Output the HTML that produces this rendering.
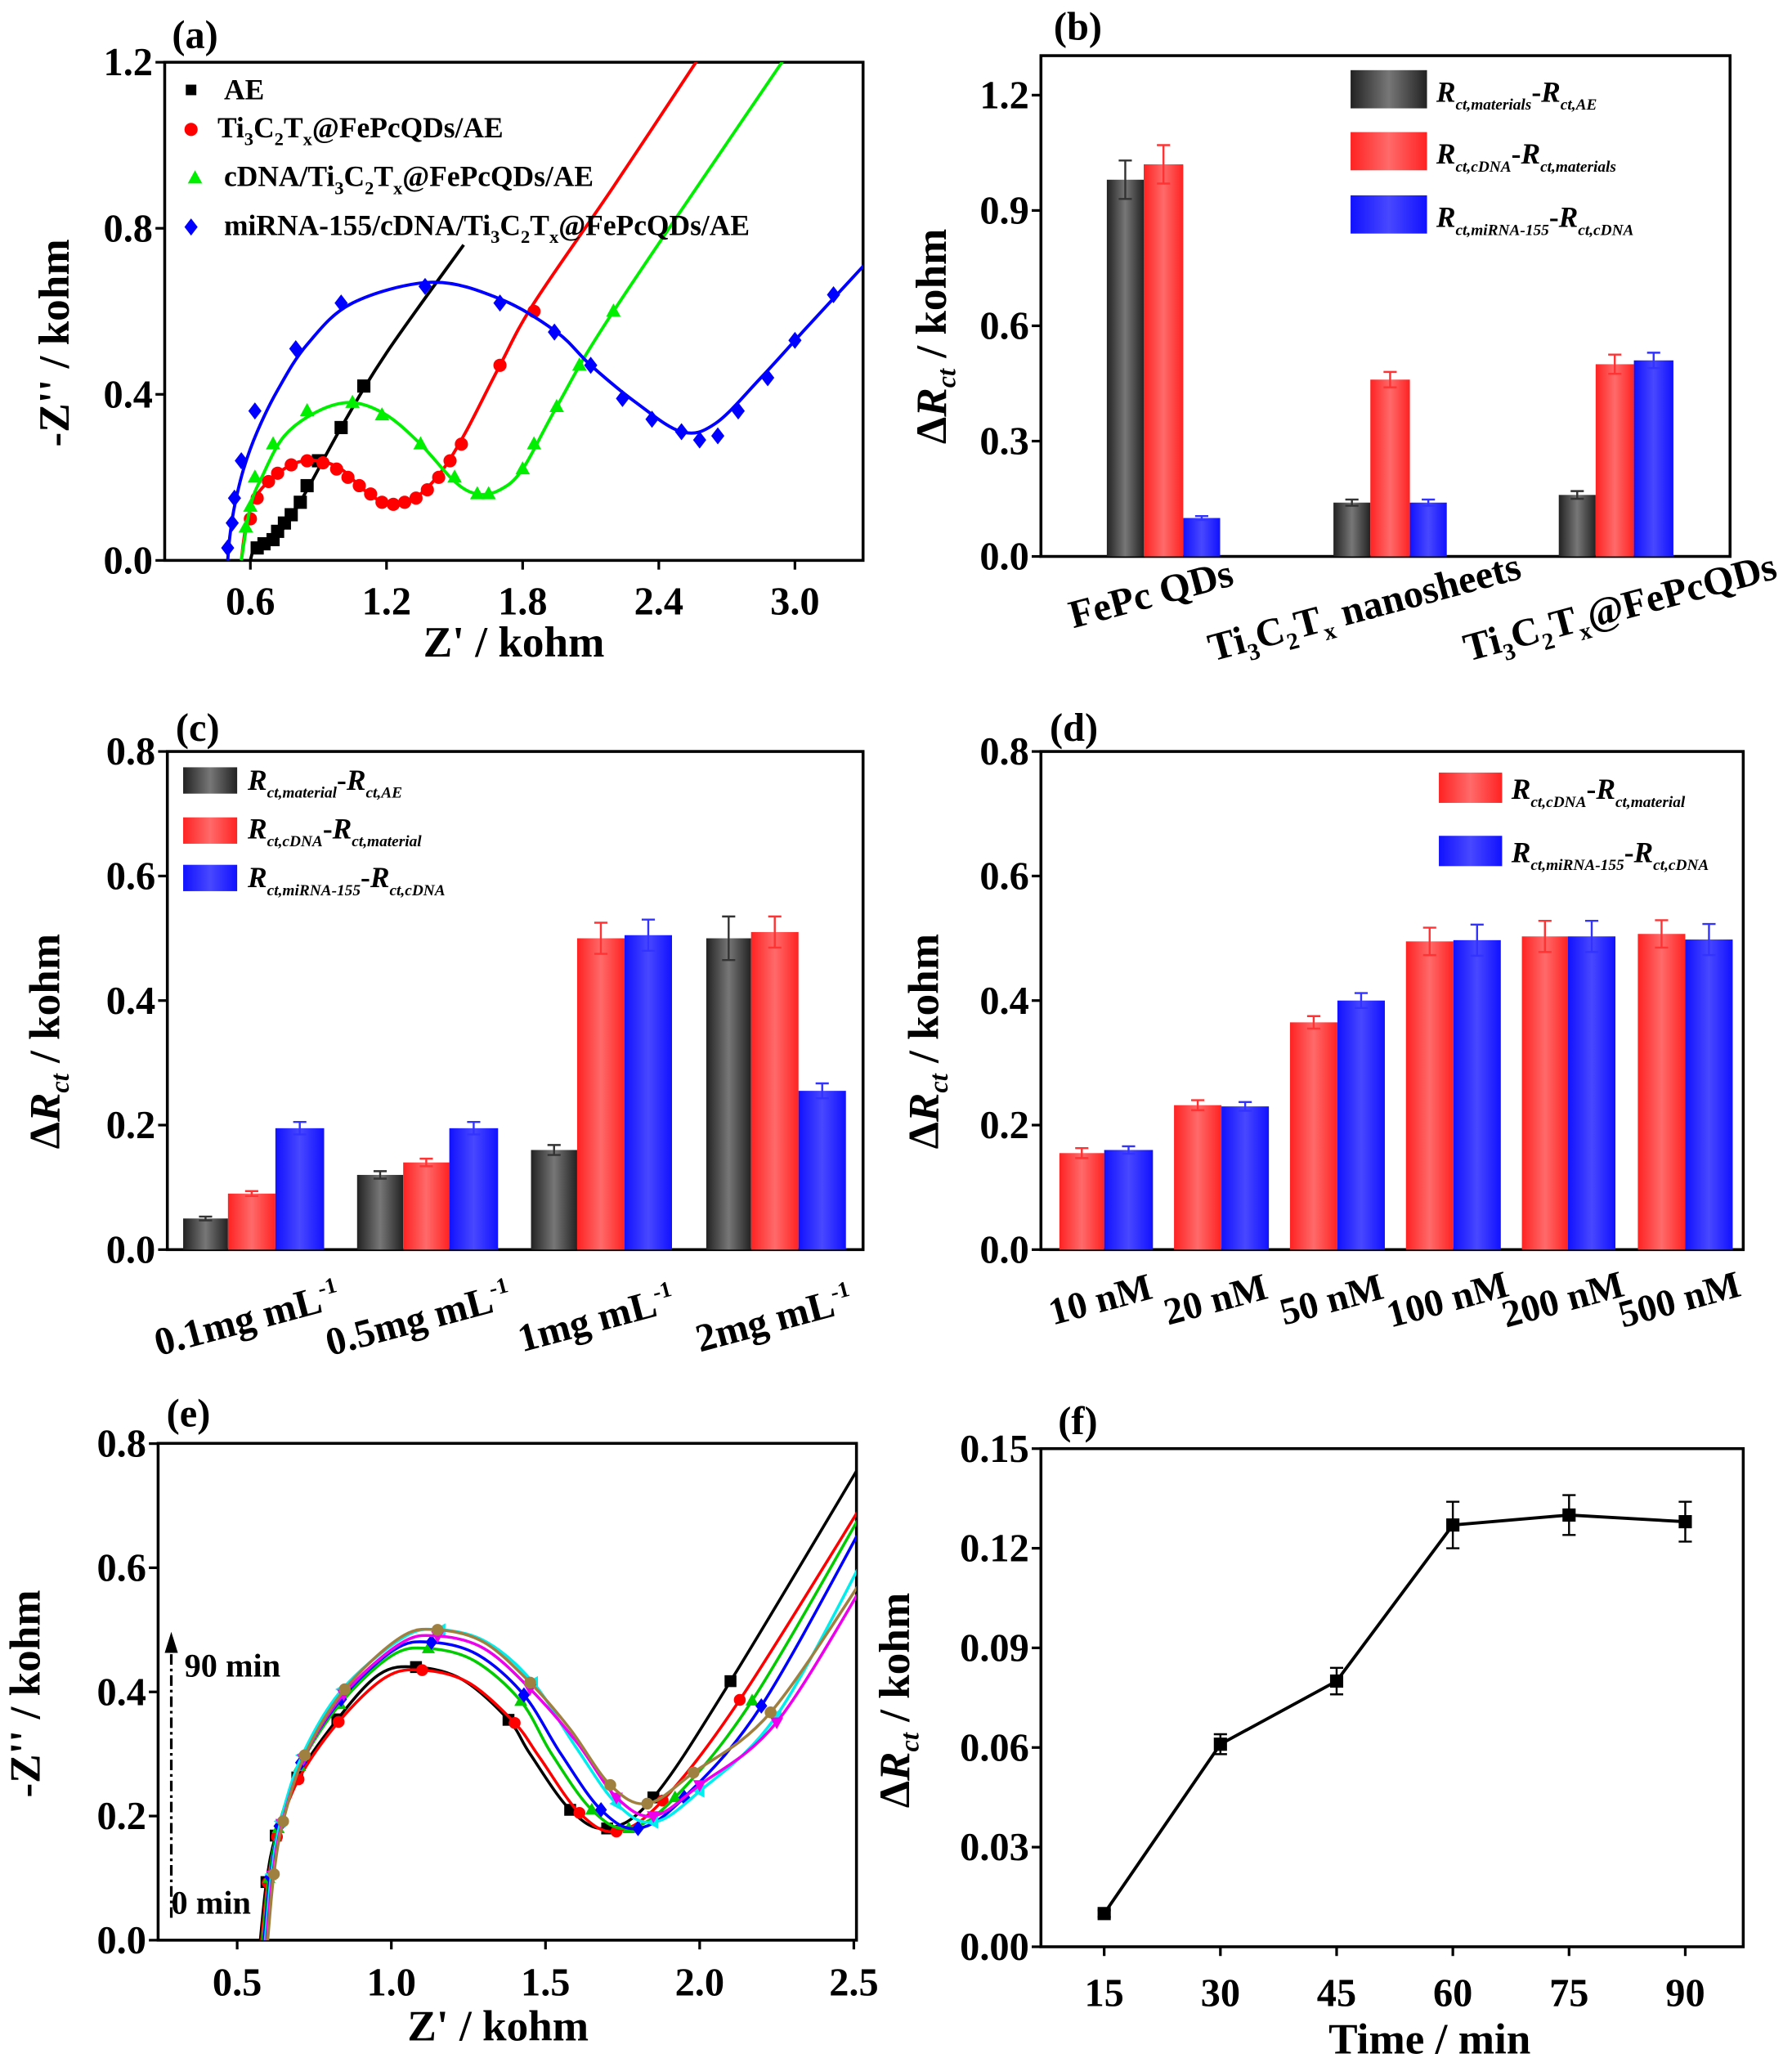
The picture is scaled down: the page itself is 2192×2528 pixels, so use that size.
<!DOCTYPE html>
<html><head><meta charset="utf-8">
<style>
html,body{margin:0;padding:0;background:#fff;}
svg{display:block}
svg text{font-family:"Liberation Serif","DejaVu Serif",serif !important;font-weight:bold;fill:#000}
</style></head>
<body>
<svg id="s" xmlns="http://www.w3.org/2000/svg" width="2192" height="2528" viewBox="0 0 1360 1568" font-family="Liberation Serif, serif">
<defs>
<linearGradient id="gk" x1="0" x2="1" y1="0" y2="0"><stop offset="0" stop-color="#222"/><stop offset="0.5" stop-color="#777"/><stop offset="1" stop-color="#222"/></linearGradient>
<linearGradient id="gr" x1="0" x2="1" y1="0" y2="0"><stop offset="0" stop-color="#f22"/><stop offset="0.5" stop-color="#ff6a6a"/><stop offset="1" stop-color="#f22"/></linearGradient>
<linearGradient id="gb" x1="0" x2="1" y1="0" y2="0"><stop offset="0" stop-color="#11f"/><stop offset="0.5" stop-color="#4848ff"/><stop offset="1" stop-color="#11f"/></linearGradient>
</defs>
<g id="root"></g>
</svg>
<script>
var R=document.getElementById('root'),NS='http://www.w3.org/2000/svg';
function el(t,a,txt){var e=document.createElementNS(NS,t);for(var k in a)e.setAttribute(k,a[k]);if(txt!==undefined)e.innerHTML=txt;R.appendChild(e);return e;}
function txt(x,y,s,size,anchor,extra){var a={x:x,y:y,'font-size':size||27,'text-anchor':anchor||'middle','font-family':'Liberation Serif, serif','font-weight':'bold'};for(var k in extra)a[k]=extra[k];return el('text',a,s);}
function cr(pts){var d='M'+pts[0][0]+','+pts[0][1];for(var i=0;i<pts.length-1;i++){var p0=pts[Math.max(0,i-1)],p1=pts[i],p2=pts[i+1],p3=pts[Math.min(pts.length-1,i+2)];
d+=' C'+(p1[0]+(p2[0]-p0[0])/6)+','+(p1[1]+(p2[1]-p0[1])/6)+' '+(p2[0]-(p3[0]-p1[0])/6)+','+(p2[1]-(p3[1]-p1[1])/6)+' '+p2[0]+','+p2[1];}return d;}
function marker(type,x,y,c,s){s=s||5;
 if(type=='sq')el('rect',{x:x-s,y:y-s,width:2*s,height:2*s,fill:c});
 else if(type=='ci')el('circle',{cx:x,cy:y,r:s,fill:c});
 else if(type=='tr')el('polygon',{points:(x)+','+(y-s*1.2)+' '+(x-s*1.1)+','+(y+s*0.8)+' '+(x+s*1.1)+','+(y+s*0.8),fill:c});
 else if(type=='di')el('polygon',{points:x+','+(y-s*1.3)+' '+(x+s)+','+y+' '+x+','+(y+s*1.3)+' '+(x-s)+','+y,fill:c});
 else if(type=='tl')el('polygon',{points:(x-s*1.2)+','+y+' '+(x+s*0.8)+','+(y-s*1.1)+' '+(x+s*0.8)+','+(y+s*1.1),fill:c});
 else if(type=='tri')el('polygon',{points:x+','+(y+s*1.2)+' '+(x-s*1.1)+','+(y-s*0.8)+' '+(x+s*1.1)+','+(y-s*0.8),fill:c});
}
function box(x0,y0,x1,y1){el('rect',{x:x0,y:y0,width:x1-x0,height:y1-y0,fill:'none',stroke:'#000','stroke-width':2.2});}
function yt(x0,y,lab){el('line',{x1:x0-7,y1:y,x2:x0,y2:y,stroke:'#000','stroke-width':2});txt(x0-9,y+10,lab,30,'end');}
function xt(x,y1){el('line',{x1:x,y1:y1,x2:x,y2:y1+7,stroke:'#000','stroke-width':2});}

/* ---------- (a) ---------- */
(function(){
var X=function(z){return 86.7+172.2*z},Y=function(v){return 425-315*v};
box(125,47,655,425);
[[1.2,'1.2'],[0.8,'0.8'],[0.4,'0.4'],[0,'0.0']].forEach(function(t){yt(125,Y(t[0]),t[1]);});
[0.6,1.2,1.8,2.4,3.0].forEach(function(z){xt(X(z),425);txt(X(z),466,z.toFixed(1),30);});
txt(390,498,"Z' / kohm",33);
txt(52,260,"-Z'' / kohm",33,'middle',{transform:'rotate(-90 52 260)'});
txt(148,36,'(a)',30);
el('clipPath',{id:'ca'}).innerHTML='<rect x="125" y="47" width="530" height="378"/>';
function ser(curve,pts,col,mk){var P=curve.map(function(p){return[X(p[0]),Y(p[1])]});el('path',{d:cr(P),fill:'none',stroke:col,'stroke-width':2.4,'clip-path':'url(#ca)'});pts.forEach(function(p){marker(mk,X(p[0]),Y(p[1]),col,5);});}
ser([[0.6,0],[0.62,0.03],[0.68,0.04],[0.75,0.08],[0.85,0.17],[1.0,0.32],[1.2,0.5],[1.54,0.76]],
 [[0.63,0.03],[0.66,0.04],[0.7,0.05],[0.72,0.07],[0.75,0.09],[0.78,0.11],[0.82,0.14],[0.85,0.18],[0.9,0.24],[1.0,0.32],[1.1,0.42]],'#000','sq');
ser([[0.56,0],[0.58,0.08],[0.62,0.15],[0.7,0.2],[0.8,0.235],[0.9,0.24],[1.0,0.22],[1.1,0.17],[1.2,0.135],[1.27,0.135],[1.35,0.16],[1.45,0.22],[1.55,0.31],[1.7,0.47],[1.85,0.62],[2.2,0.9],[2.6,1.23]],
 [[0.6,0.1],[0.63,0.15],[0.68,0.19],[0.72,0.21],[0.78,0.23],[0.85,0.24],[0.92,0.235],[0.98,0.22],[1.03,0.2],[1.08,0.18],[1.13,0.16],[1.18,0.14],[1.23,0.135],[1.28,0.14],[1.33,0.15],[1.38,0.17],[1.43,0.2],[1.48,0.24],[1.53,0.28],[1.7,0.47],[1.85,0.6]],'#f00','ci');
ser([[0.56,0],[0.6,0.13],[0.65,0.2],[0.75,0.3],[0.9,0.36],[1.05,0.38],[1.2,0.35],[1.35,0.28],[1.5,0.19],[1.6,0.16],[1.7,0.17],[1.8,0.22],[1.95,0.37],[2.2,0.6],[2.98,1.23]],
 [[0.58,0.08],[0.6,0.13],[0.62,0.2],[0.7,0.28],[0.85,0.36],[1.05,0.38],[1.18,0.35],[1.35,0.28],[1.5,0.2],[1.6,0.16],[1.65,0.16],[1.8,0.22],[1.85,0.28],[1.95,0.37],[2.05,0.47],[2.2,0.6]],'#0e0','tr');
ser([[0.5,0],[0.51,0.06],[0.53,0.13],[0.57,0.22],[0.63,0.31],[0.72,0.41],[0.85,0.52],[1.05,0.62],[1.4,0.67],[1.7,0.63],[1.95,0.55],[2.1,0.47],[2.3,0.38],[2.5,0.31],[2.65,0.33],[2.85,0.44],[3.05,0.56],[3.32,0.72]],
 [[0.5,0.03],[0.52,0.09],[0.53,0.15],[0.56,0.24],[0.62,0.36],[0.8,0.51],[1.0,0.62],[1.37,0.66],[1.7,0.62],[1.94,0.55],[2.1,0.47],[2.24,0.39],[2.37,0.34],[2.5,0.31],[2.58,0.29],[2.66,0.3],[2.75,0.36],[2.88,0.44],[3.0,0.53],[3.17,0.64]],'#00f','di');
marker('sq',145,68,'#000',4);txt(170,75,'AE',22,'start');
marker('ci',145,98,'#f00',5);txt(165,104,'Ti<tspan font-size="14" dy="6">3</tspan><tspan dy="-6">C</tspan><tspan font-size="14" dy="6">2</tspan><tspan dy="-6">T</tspan><tspan font-size="14" dy="6">x</tspan><tspan dy="-6">@FePcQDs/AE</tspan>',22,'start');
marker('tr',148,135,'#0e0',5);txt(170,141,'cDNA/Ti<tspan font-size="14" dy="6">3</tspan><tspan dy="-6">C</tspan><tspan font-size="14" dy="6">2</tspan><tspan dy="-6">T</tspan><tspan font-size="14" dy="6">x</tspan><tspan dy="-6">@FePcQDs/AE</tspan>',22,'start');
marker('di',145,172,'#00f',5);txt(170,178,'miRNA-155/cDNA/Ti<tspan font-size="14" dy="6">3</tspan><tspan dy="-6">C</tspan><tspan font-size="14" dy="6">2</tspan><tspan dy="-6">T</tspan><tspan font-size="14" dy="6">x</tspan><tspan dy="-6">@FePcQDs/AE</tspan>',22,'start');
})();

function bar(x0,x1,Y,v,err,g,ec){el('rect',{x:x0,y:Y(v),width:x1-x0,height:Y(0)-Y(v),fill:'url(#'+g+')'});
 var cx=(x0+x1)/2;el('path',{d:'M'+cx+','+Y(v-err)+'V'+Y(v+err)+'M'+(cx-5)+','+Y(v+err)+'h10M'+(cx-5)+','+Y(v-err)+'h10',stroke:ec,'stroke-width':1.5,fill:'none'});}
function rlab(x,y,s,size){txt(x,y,s,size||30,'middle',{transform:'rotate(-15 '+x+' '+y+')'});}
function rsub(main,sub1,sub2){return '<tspan font-style="italic">R</tspan><tspan font-size="12" font-style="italic" dy="6">'+sub1+'</tspan><tspan dy="-6">-</tspan><tspan font-style="italic">R</tspan><tspan font-size="12" font-style="italic" dy="6">'+sub2+'</tspan>';}
function ylabDR(x,y){txt(x,y,'Δ<tspan font-style="italic">R</tspan><tspan font-size="20" font-style="italic" dy="7">ct</tspan><tspan dy="-7"> / kohm</tspan>',33,'middle',{transform:'rotate(-90 '+x+' '+y+')'});}

/* ---------- (b) ---------- */
(function(){
var Y=function(v){return 422-291.7*v};
box(790,42,1313,422);
[[1.2,'1.2'],[0.9,'0.9'],[0.6,'0.6'],[0.3,'0.3'],[0,'0.0']].forEach(function(t){yt(790,Y(t[0]),t[1]);});
txt(818,30,'(b)',30);
ylabDR(718,255);
var G=[[840,868,898,926],[1012,1040,1070,1098],[1183,1211,1240,1270]];
var V=[[0.98,1.02,0.10],[0.14,0.46,0.14],[0.16,0.50,0.51]],E=[[0.05,0.05,0.005],[0.008,0.02,0.008],[0.01,0.025,0.02]];
G.forEach(function(g,i){bar(g[0],g[1],Y,V[i][0],E[i][0],'gk','#333');bar(g[1],g[2],Y,V[i][1],E[i][1],'gr','#f33');bar(g[2],g[3],Y,V[i][2],E[i][2],'gb','#33f');});
el('rect',{x:1025,y:53,width:58,height:29,fill:'url(#gk)'});
el('rect',{x:1025,y:100,width:58,height:29,fill:'url(#gr)'});
el('rect',{x:1025,y:148,width:58,height:29,fill:'url(#gb)'});
txt(1090,77,rsub('','ct,materials','ct,AE'),22,'start');
txt(1090,124,rsub('','ct,cDNA','ct,materials'),22,'start');
txt(1090,172,rsub('','ct,miRNA-155','ct,cDNA'),22,'start');
rlab(876,460,'FePc QDs');
rlab(1038,470,'Ti<tspan font-size="18" dy="7">3</tspan><tspan dy="-7">C</tspan><tspan font-size="18" dy="7">2</tspan><tspan dy="-7">T</tspan><tspan font-size="18" dy="7">x</tspan><tspan dy="-7"> nanosheets</tspan>');
rlab(1232,470,'Ti<tspan font-size="18" dy="7">3</tspan><tspan dy="-7">C</tspan><tspan font-size="18" dy="7">2</tspan><tspan dy="-7">T</tspan><tspan font-size="18" dy="7">x</tspan><tspan dy="-7">@FePcQDs</tspan>');
})();

/* ---------- (c) ---------- */
(function(){
var Y=function(v){return 948-472.5*v};
box(127,570,655,948);
[[0.8,'0.8'],[0.6,'0.6'],[0.4,'0.4'],[0.2,'0.2'],[0,'0.0']].forEach(function(t){yt(127,Y(t[0]),t[1]);});
txt(150,562,'(c)',30);
ylabDR(45,790);
var G=[[139,173,209,246],[271,306,341,378],[403,438,474,510],[536,570,606,642]];
var V=[[0.05,0.09,0.195],[0.12,0.14,0.195],[0.16,0.50,0.505],[0.50,0.51,0.255]],E=[[0.003,0.004,0.01],[0.006,0.006,0.01],[0.008,0.025,0.025],[0.035,0.025,0.012]];
G.forEach(function(g,i){bar(g[0],g[1],Y,V[i][0],E[i][0],'gk','#333');bar(g[1],g[2],Y,V[i][1],E[i][1],'gr','#f33');bar(g[2],g[3],Y,V[i][2],E[i][2],'gb','#33f');});
el('rect',{x:139,y:582,width:41,height:20,fill:'url(#gk)'});
el('rect',{x:139,y:620,width:41,height:20,fill:'url(#gr)'});
el('rect',{x:139,y:656,width:41,height:20,fill:'url(#gb)'});
txt(188,599,rsub('','ct,material','ct,AE'),22,'start');
txt(188,636,rsub('','ct,cDNA','ct,material'),22,'start');
txt(188,673,rsub('','ct,miRNA-155','ct,cDNA'),22,'start');
var L=['0.1mg mL','0.5mg mL','1mg mL','2mg mL'],C=[190,320,455,590];
L.forEach(function(l,i){rlab(C[i],1010,l+'<tspan font-size="17" dy="-12">-1</tspan>');});
})();

/* ---------- (d) ---------- */
(function(){
var Y=function(v){return 948-472.5*v};
box(790,570,1323,948);
[[0.8,'0.8'],[0.6,'0.6'],[0.4,'0.4'],[0.2,'0.2'],[0,'0.0']].forEach(function(t){yt(790,Y(t[0]),t[1]);});
txt(815,562,'(d)',30);
ylabDR(712,790);
var G=[[804,838,875],[891,927,963],[979,1015,1051],[1067,1103,1139],[1155,1190,1226],[1243,1279,1315]];
var V=[[0.155,0.16],[0.232,0.23],[0.365,0.40],[0.495,0.497],[0.503,0.503],[0.507,0.498]],E=[[0.008,0.006],[0.008,0.007],[0.01,0.012],[0.022,0.025],[0.025,0.025],[0.022,0.025]];
G.forEach(function(g,i){bar(g[0],g[1],Y,V[i][0],E[i][0],'gr','#f33');bar(g[1],g[2],Y,V[i][1],E[i][1],'gb','#33f');});
el('rect',{x:1092,y:586,width:48,height:23,fill:'url(#gr)'});
el('rect',{x:1092,y:634,width:48,height:23,fill:'url(#gb)'});
txt(1147,606,rsub('','ct,cDNA','ct,material'),22,'start');
txt(1147,654,rsub('','ct,miRNA-155','ct,cDNA'),22,'start');
['10 nM','20 nM','50 nM','100 nM','200 nM','500 nM'].forEach(function(l,i){rlab((G[i][0]+G[i][2])/2-2,995,l,29);});
})();

/* ---------- (e) ---------- */
(function(){
var X=function(z){return 63+234*z},Y=function(v){return 1472-471*v};
box(120,1095,650,1472);
[[0.8,'0.8'],[0.6,'0.6'],[0.4,'0.4'],[0.2,'0.2'],[0,'0.0']].forEach(function(t){yt(120,Y(t[0]),t[1]);});
[0.5,1.0,1.5,2.0,2.5].forEach(function(z){xt(X(z),1472);txt(X(z),1514,z.toFixed(1),30);});
txt(378,1548,"Z' / kohm",33);
txt(30,1285,"-Z'' / kohm",33,'middle',{transform:'rotate(-90 30 1285)'});
txt(143,1082,'(e)',30);
el('clipPath',{id:'ce'}).innerHTML='<rect x="120" y="1095" width="530" height="377"/>';
var S=[['#000','sq',0.44,1.08,0.18,1.70,0.745],['#f00','ci',0.435,1.10,0.175,1.73,0.68],['#0c0','tr',0.47,1.12,0.18,1.77,0.67],['#00f','di',0.48,1.13,0.18,1.80,0.65],['#0ee','tl',0.50,1.16,0.19,1.85,0.60],['#e0e','tri',0.49,1.15,0.20,1.85,0.56],['#a08040','ci',0.50,1.15,0.22,1.83,0.57]];
S.forEach(function(s,k){var c=s[0],p=s[2],px=s[3],m=s[4],mx=s[5],e=s[6],f=p/0.47,x0=0.575+0.004*k;
 var pts=[[x0,0],[x0+0.02,0.1*f],[x0+0.05,0.18*f],[x0+0.12,0.28*f],[x0+0.25,0.38*f],[px-0.12,p-0.012],[px,p],[px+0.15,p-0.02],[px+0.3,p-0.085],[mx-0.25,m+0.12],[mx-0.12,m+0.03],[mx,m],[mx+0.15,m+0.05],[mx+0.4,m+(e-m)*0.42],[2.55,e+(e-m)*0.08]];
 var P=pts.map(function(q){return[X(q[0]),Y(q[1])]});
 el('path',{d:cr(P),fill:'none',stroke:c,'stroke-width':2.2,'clip-path':'url(#ce)'});
 [1,2,3,4,6,8,10,11,12,13].forEach(function(i){marker(s[1],P[i][0],P[i][1],c,4.5);});
});
el('line',{x1:130,y1:1455,x2:130,y2:1250,stroke:'#000','stroke-width':2,'stroke-dasharray':'8,3,2,3'});
el('polygon',{points:'130,1238 125,1254 135,1254',fill:'#000'});
txt(140,1272,'90 min',25,'start');
txt(130,1452,'0 min',25,'start');
})();

/* ---------- (f) ---------- */
(function(){
var X=function(t){return 838+(t-15)*(1279-838)/75},Y=function(v){return 1477-2520*v};
box(790,1099,1323,1477);
[[0.15,'0.15'],[0.12,'0.12'],[0.09,'0.09'],[0.06,'0.06'],[0.03,'0.03'],[0,'0.00']].forEach(function(t){yt(790,Y(t[0]),t[1]);});
[15,30,45,60,75,90].forEach(function(t){xt(X(t),1477);txt(X(t),1522,String(t),30);});
txt(1085,1558,'Time / min',33);
txt(818,1088,'(f)',30);
ylabDR(690,1290);
var D=[[15,0.010,0.001],[30,0.061,0.003],[45,0.080,0.004],[60,0.127,0.007],[75,0.130,0.006],[90,0.128,0.006]];
el('polyline',{points:D.map(function(d){return X(d[0])+','+Y(d[1])}).join(' '),fill:'none',stroke:'#000','stroke-width':2.4});
D.forEach(function(d){var x=X(d[0]);el('path',{d:'M'+x+','+Y(d[1]-d[2])+'V'+Y(d[1]+d[2])+'M'+(x-5)+','+Y(d[1]+d[2])+'h10M'+(x-5)+','+Y(d[1]-d[2])+'h10',stroke:'#000','stroke-width':1.5,fill:'none'});marker('sq',x,Y(d[1]),'#000',5);});
})();
</script>
</body></html>
